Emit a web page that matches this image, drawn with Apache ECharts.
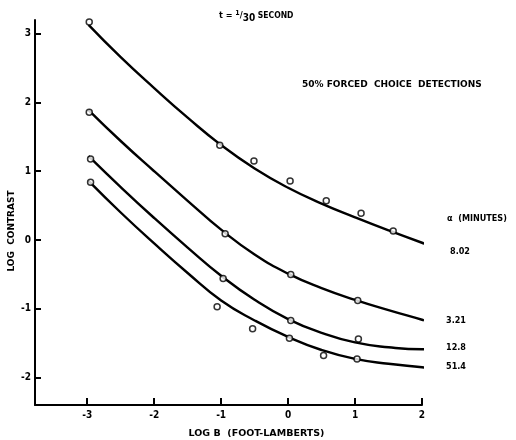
<!DOCTYPE html>
<html>
<head>
<meta charset="utf-8">
<script src="https://cdn.jsdelivr.net/npm/echarts@6/dist/echarts.min.js"></script>
<style>
  html, body { margin: 0; padding: 0; background: #fff; }
  #chart { width: 516px; height: 440px; }
</style>
</head>
<body>
<div id="chart"></div>
<script>
// Log B (foot-lamberts) tick positions and log contrast tick positions
const xTicks = [-3, -2, -1, 0, 1, 2];
const yTicks = [-2, -1, 0, 1, 2, 3];

// Target sizes, alpha in minutes of arc
const sizeLabels = ['8.02', '3.21', '12.8', '51.4'];

// Measured thresholds (open circles): log B and log contrast
const obs802X = [-2.97, -1.02, -0.51, 0.03, 0.57, 1.09, 1.57, 2.11];
const obs802Y = [3.17, 1.38, 1.15, 0.86, 0.57, 0.39, 0.13, -0.07];
const obs321X = [-2.97, -0.94, 0.04, 1.04, 2.03];
const obs321Y = [1.86, 0.09, -0.50, -0.88, -1.18];
const obs128X = [-2.95, -0.97, 0.04, 1.05, 2.04];
const obs128Y = [1.18, -0.56, -1.17, -1.44, -1.59];
const obs514X = [-2.95, -1.06, -0.53, 0.02, 0.53, 1.03, 2.07];
const obs514Y = [0.84, -0.97, -1.29, -1.43, -1.68, -1.73, -1.85];

// Smooth fitted curves through each set
const fitX = [-2.98, -2.5, -2, -1.5, -1, -0.5, 0, 0.5, 1, 1.5, 2];
const fit802Y = [3.13, 2.66, 2.21, 1.78, 1.38, 1.04, 0.76, 0.53, 0.33, 0.14, -0.04];
const fit321Y = [1.89, 1.44, 1.00, 0.57, 0.15, -0.21, -0.49, -0.70, -0.87, -1.02, -1.16];
const fit128Y = [1.22, 0.77, 0.32, -0.11, -0.52, -0.87, -1.15, -1.35, -1.49, -1.56, -1.59];
const fit514Y = [0.86, 0.40, -0.05, -0.48, -0.88, -1.17, -1.41, -1.60, -1.73, -1.80, -1.85];
const fitEnd = [[2.1, -0.07], [2.03, -1.17], [2.03, -1.59], [2.07, -1.86]];

const FONT = 'DejaVu Sans Condensed';
const WIDE = 'DejaVu Sans';
const zip = (xs, ys) => xs.map((x, i) => [x, ys[i]]);

const fits = [fit802Y, fit321Y, fit128Y, fit514Y];
const obs = [[obs802X, obs802Y], [obs321X, obs321Y], [obs128X, obs128Y], [obs514X, obs514Y]];

const series = [];
fits.forEach((ys, i) => {
  series.push({
    type: 'line',
    data: zip(fitX, ys).concat([fitEnd[i]]),
    smooth: 0.5,
    showSymbol: false,
    lineStyle: { color: '#000', width: 2.4 },
    z: 2,
    silent: true
  });
});
obs.forEach(([xs, ys]) => {
  series.push({
    type: 'scatter',
    data: zip(xs, ys),
    symbol: 'circle',
    symbolSize: 6,
    itemStyle: { color: '#fff', borderColor: '#000', borderWidth: 1.5 },
    z: 3
  });
});

const txt = (size, family) => ({ fontFamily: family || FONT, fontWeight: 'bold', fontSize: size, color: '#000' });

const chart = echarts.init(document.getElementById('chart'), null, { renderer: 'canvas' });
chart.setOption({
  animation: false,
  backgroundColor: '#fff',
  grid: { left: 35, right: 94, top: 20, bottom: 35, containLabel: false, outerBoundsMode: 'none' },
  xAxis: {
    type: 'value',
    min: -3.78,
    max: 2,
    splitLine: { show: false },
    axisLine: { onZero: false, lineStyle: { color: '#000', width: 2 } },
    axisTick: { inside: true, length: 7, customValues: xTicks, lineStyle: { color: '#000', width: 2 } },
    axisLabel: Object.assign({
      customValues: xTicks,
      margin: 5,
      formatter: v => (v < 0 ? '-' + Math.abs(v) : String(v))
    }, txt(10)),
    name: 'LOG B  (FOOT-LAMBERTS)',
    nameLocation: 'middle',
    nameGap: 24,
    nameTextStyle: Object.assign({ padding: [0, 0, 0, 56] }, txt(9.5, WIDE))
  },
  yAxis: {
    type: 'value',
    min: -2.4,
    max: 3.2,
    splitLine: { show: false },
    axisLine: { onZero: false, lineStyle: { color: '#000', width: 2 } },
    axisTick: { inside: true, length: 6, customValues: yTicks, lineStyle: { color: '#000', width: 2 } },
    axisLabel: Object.assign({
      customValues: yTicks,
      margin: 4,
      formatter: v => (v < 0 ? '-' + Math.abs(v) : String(v))
    }, txt(10))
  },
  graphic: [
    {
      type: 'text',
      x: 12,
      y: 231,
      rotation: Math.PI / 2,
      style: { text: 'LOG  CONTRAST', align: 'center', verticalAlign: 'middle', font: 'bold 9px "DejaVu Sans"', fill: '#000' }
    }
  ],
  title: [
    {
      text: '{a|t = }{sup|1}{a|/}{sub|30}{b| SECOND}',
      left: 219,
      top: 8,
      padding: 0,
      textStyle: {
        rich: {
          a: txt(9),
          b: txt(8.5),
          sup: Object.assign({ padding: [0, 0, 5, 0] }, txt(7)),
          sub: Object.assign({ padding: [5, 0, 0, 0] }, txt(10))
        }
      }
    },
    { text: '50% FORCED  CHOICE  DETECTIONS', left: 302, top: 80, padding: 0, textStyle: txt(9, WIDE) },
    { text: 'α  (MINUTES)', left: 447, top: 214, padding: 0, textStyle: txt(9) },
    { text: sizeLabels[0], left: 450, top: 247, padding: 0, textStyle: txt(9) },
    { text: sizeLabels[1], left: 446, top: 316, padding: 0, textStyle: txt(9) },
    { text: sizeLabels[2], left: 446, top: 343, padding: 0, textStyle: txt(9) },
    { text: sizeLabels[3], left: 446, top: 362, padding: 0, textStyle: txt(9) }
  ],
  series: series
});
</script>
</body>
</html>
